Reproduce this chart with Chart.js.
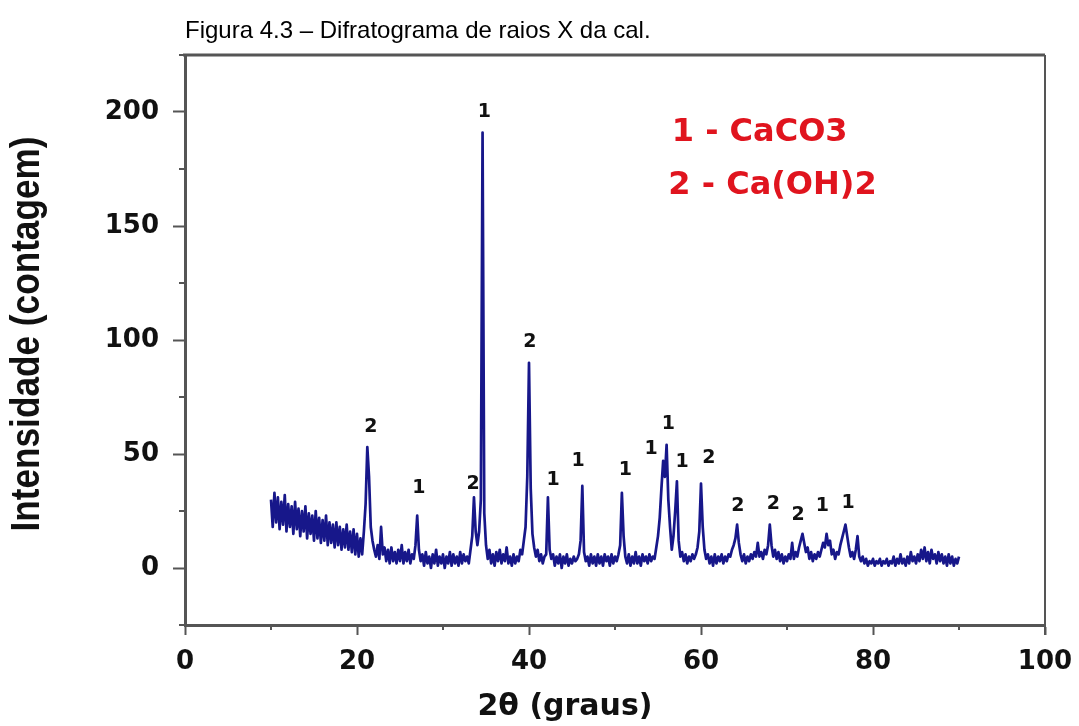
<!DOCTYPE html>
<html>
<head>
<meta charset="utf-8">
<script src="https://cdn.jsdelivr.net/npm/chart.js@4.4.1/dist/chart.umd.min.js"></script>
<style>
  html, body { margin: 0; padding: 0; background: #fff; }
  canvas { display: block; }
</style>
</head>
<body>
<canvas id="xrd" width="1079" height="726"></canvas>
<script>
// Intensity counts, sampled every 0.2 deg from 10.0 to 90.0 (one row = 2 deg)
const startAngle = 10;
const stepAngle = 0.2;
const intensity = [
  30, 18, 33, 20, 31, 17, 29, 19, 32, 16,   // 10
  28, 18, 27, 15, 29, 17, 26, 14, 25, 16,   // 12
  27, 13, 24, 15, 23, 12, 25, 13, 22, 11,   // 14
  21, 12, 23, 10, 20, 11, 19, 9, 20, 10,    // 16
  18, 8, 17, 9, 19, 8, 16, 7, 17, 6,        // 18
  15, 5, 13, 6, 16, 28, 53, 40, 18, 12,     // 20
  8, 5, 10, 4, 18, 6, 9, 3, 8, 2,           // 22
  9, 3, 7, 2, 8, 3, 10, 2, 7, 3,            // 24
  8, 2, 6, 4, 10, 23, 8, 3, 6, 1,           // 26
  7, 2, 5, 0, 6, 2, 8, 1, 5, 2,             // 28
  6, 0, 5, 2, 7, 1, 6, 2, 5, 1,             // 30
  7, 2, 6, 3, 5, 2, 8, 14, 31, 16,          // 32
  10, 16, 30, 191, 24, 10, 4, 8, 2, 6,      // 34
  1, 7, 3, 8, 2, 6, 3, 9, 2, 5,             // 36
  1, 6, 2, 5, 3, 8, 6, 12, 18, 40,          // 38
  90, 35, 15, 9, 5, 8, 3, 6, 2, 5,          // 40
  6, 31, 8, 4, 6, 1, 5, 2, 6, 0,            // 42
  5, 2, 6, 1, 4, 2, 5, 3, 4, 6,             // 44
  12, 36, 7, 3, 5, 1, 6, 2, 5, 1,           // 46
  6, 2, 5, 1, 6, 3, 5, 1, 6, 2,             // 48
  5, 3, 6, 10, 33, 14, 5, 2, 6, 1,          // 50
  5, 2, 7, 2, 5, 1, 6, 3, 5, 2,             // 52
  6, 3, 5, 4, 9, 14, 22, 35, 47, 40,        // 54
  54, 30, 18, 8, 14, 25, 38, 12, 5, 7,      // 56
  3, 6, 2, 5, 3, 6, 4, 6, 9, 16,            // 58
  37, 18, 8, 4, 6, 2, 5, 1, 6, 2,           // 60
  5, 3, 6, 2, 5, 3, 6, 5, 8, 10,            // 62
  13, 19, 11, 6, 3, 6, 2, 5, 3, 6,          // 64
  4, 7, 5, 11, 5, 7, 4, 8, 6, 10,           // 66
  19, 10, 5, 8, 4, 7, 3, 6, 2, 5,           // 68
  3, 6, 4, 11, 4, 7, 5, 9, 12, 15,          // 70
  11, 7, 9, 4, 7, 3, 6, 4, 7, 5,            // 72
  8, 11, 9, 15, 10, 12, 6, 8, 4, 7,         // 74
  6, 10, 13, 16, 19, 14, 9, 5, 7, 4,        // 76
  8, 14, 5, 3, 5, 2, 4, 1, 3, 2,            // 78
  4, 1, 3, 2, 4, 1, 3, 2, 4, 1,             // 80
  3, 2, 5, 1, 4, 2, 6, 2, 4, 1,             // 82
  5, 2, 7, 3, 5, 2, 6, 3, 8, 4,             // 84
  9, 3, 7, 2, 8, 4, 6, 2, 7, 3,             // 86
  6, 2, 5, 1, 6, 2, 5, 1, 4, 2,             // 88
  5                                         // 90
];

// Phase tags over the peaks: 1 = CaCO3, 2 = Ca(OH)2
const peakTags   = ['2', '1', '2', '1', '2', '1', '1', '1', '1', '1', '1', '2', '2', '2', '2', '1', '1'];
const peakAngles = [21.2, 27.0, 33.6, 34.6, 40.0, 42.2, 46.2, 50.8, 55.6, 56.0, 57.2, 60.0, 64.2, 68.0, 71.8, 74.6, 76.8];

const phaseNames = ['1 - CaCO3', '2 - Ca(OH)2'];

const xTicks = [0, 20, 40, 60, 80, 100];
const yTicks = [0, 50, 100, 150, 200];

const points = intensity.map((v, i) => ({ x: +(startAngle + i * stepAngle).toFixed(1), y: v }));

const frameColor = '#555';
const boldFont = "'DejaVu Sans', Verdana, sans-serif";

// where each tag sits, in axis units (x deg, y counts)
const tagAt = [
  [21.6, 62], [27.2, 35], [33.5, 37], [34.8, 200], [40.1, 99], [42.8, 38.5],
  [45.7, 47], [51.2, 43], [54.2, 52], [56.2, 63], [57.8, 46.5], [60.9, 48],
  [64.3, 27], [68.4, 28], [71.3, 23], [74.1, 27], [77.1, 28.5]
];

const decorations = {
  id: 'decorations',
  afterDraw(chart) {
    const { ctx, chartArea: a, scales: { x, y } } = chart;
    ctx.save();

    // caption above the frame
    ctx.fillStyle = '#000';
    ctx.font = "24px 'Liberation Sans', Arial, sans-serif";
    ctx.textAlign = 'left';
    ctx.textBaseline = 'alphabetic';
    ctx.fillText('Figura 4.3 \u2013 Difratograma de raios X da cal.', a.left, 38);

    // top and right sides of the box
    ctx.strokeStyle = frameColor;
    ctx.lineWidth = 3;
    ctx.beginPath();
    ctx.moveTo(a.left - 2, a.top);
    ctx.lineTo(a.right, a.top);
    ctx.stroke();
    ctx.lineWidth = 2;
    ctx.beginPath();
    ctx.moveTo(a.right, a.top);
    ctx.lineTo(a.right, a.bottom + 10);
    ctx.stroke();

    // minor ticks
    ctx.lineWidth = 2;
    ctx.beginPath();
    x.ticks.forEach(t => {
      if (t.value % 20 !== 0) {
        const px = x.getPixelForValue(t.value);
        ctx.moveTo(px, a.bottom);
        ctx.lineTo(px, a.bottom + 5);
      }
    });
    y.ticks.forEach(t => {
      if (t.value % 50 !== 0) {
        const py = y.getPixelForValue(t.value);
        ctx.moveTo(a.left, py);
        ctx.lineTo(a.left - 6, py);
      }
    });
    ctx.stroke();

    // axis titles
    ctx.fillStyle = '#111';
    ctx.textAlign = 'center';
    ctx.textBaseline = 'middle';
    ctx.font = 'bold 30px ' + boldFont;
    ctx.fillText('2\u03b8 (graus)', 565, 707);

    ctx.save();
    ctx.translate(28, 334);
    ctx.rotate(-Math.PI / 2);
    ctx.scale(0.88, 1);
    ctx.font = "bold 40px 'Liberation Sans', Arial, sans-serif";
    ctx.fillText('Intensidade (contagem)', 0, 0);
    ctx.restore();

    // peak tags
    ctx.font = 'bold 19px ' + boldFont;
    peakTags.forEach((tag, i) => {
      ctx.fillText(tag, x.getPixelForValue(tagAt[i][0]), y.getPixelForValue(tagAt[i][1]));
    });

    // phase key
    ctx.fillStyle = '#e0141e';
    ctx.font = 'bold 32px ' + boldFont;
    ctx.textAlign = 'left';
    ctx.fillText(phaseNames[0], x.getPixelForValue(56.6), y.getPixelForValue(191));
    ctx.fillText(phaseNames[1], x.getPixelForValue(56.2), y.getPixelForValue(167.5));

    ctx.restore();
  }
};

new Chart(document.getElementById('xrd'), {
  type: 'line',
  data: {
    datasets: [{
      data: points,
      borderColor: '#17178a',
      borderWidth: 2.7,
      borderJoinStyle: 'round',
      pointRadius: 0,
      tension: 0,
      fill: false
    }]
  },
  options: {
    responsive: false,
    animation: false,
    layout: { padding: { top: 55, right: 34, left: 0, bottom: 0 } },
    plugins: { legend: { display: false }, tooltip: { enabled: false } },
    scales: {
      x: {
        type: 'linear',
        min: 0,
        max: 100,
        afterFit: s => { s.height = 101; s.paddingLeft = 0; s.paddingRight = 0; },
        ticks: {
          stepSize: 10,
          autoSkip: false,
          maxRotation: 0,
          padding: 12,
          color: '#111',
          font: { family: boldFont, size: 26, weight: 'bold' },
          callback: v => xTicks.includes(v) ? String(v) : ''
        },
        grid: {
          drawOnChartArea: false,
          tickLength: 10,
          tickWidth: 2,
          tickColor: c => (c.tick && c.tick.value % 20 === 0) ? frameColor : 'rgba(0,0,0,0)'
        },
        border: { color: frameColor, width: 3 },
        title: { display: false }
      },
      y: {
        min: -25,
        max: 225,
        afterFit: s => { s.width = 185; s.paddingTop = 0; s.paddingBottom = 0; },
        ticks: {
          stepSize: 25,
          autoSkip: false,
          padding: 14,
          color: '#111',
          font: { family: boldFont, size: 26, weight: 'bold' },
          callback: v => yTicks.includes(v) ? String(v) : ''
        },
        grid: {
          drawOnChartArea: false,
          tickLength: 12,
          tickWidth: 2,
          tickColor: c => (c.tick && c.tick.value % 50 === 0) ? frameColor : 'rgba(0,0,0,0)'
        },
        border: { color: frameColor, width: 3 },
        title: { display: false }
      }
    }
  },
  plugins: [decorations]
});
</script>
</body>
</html>
